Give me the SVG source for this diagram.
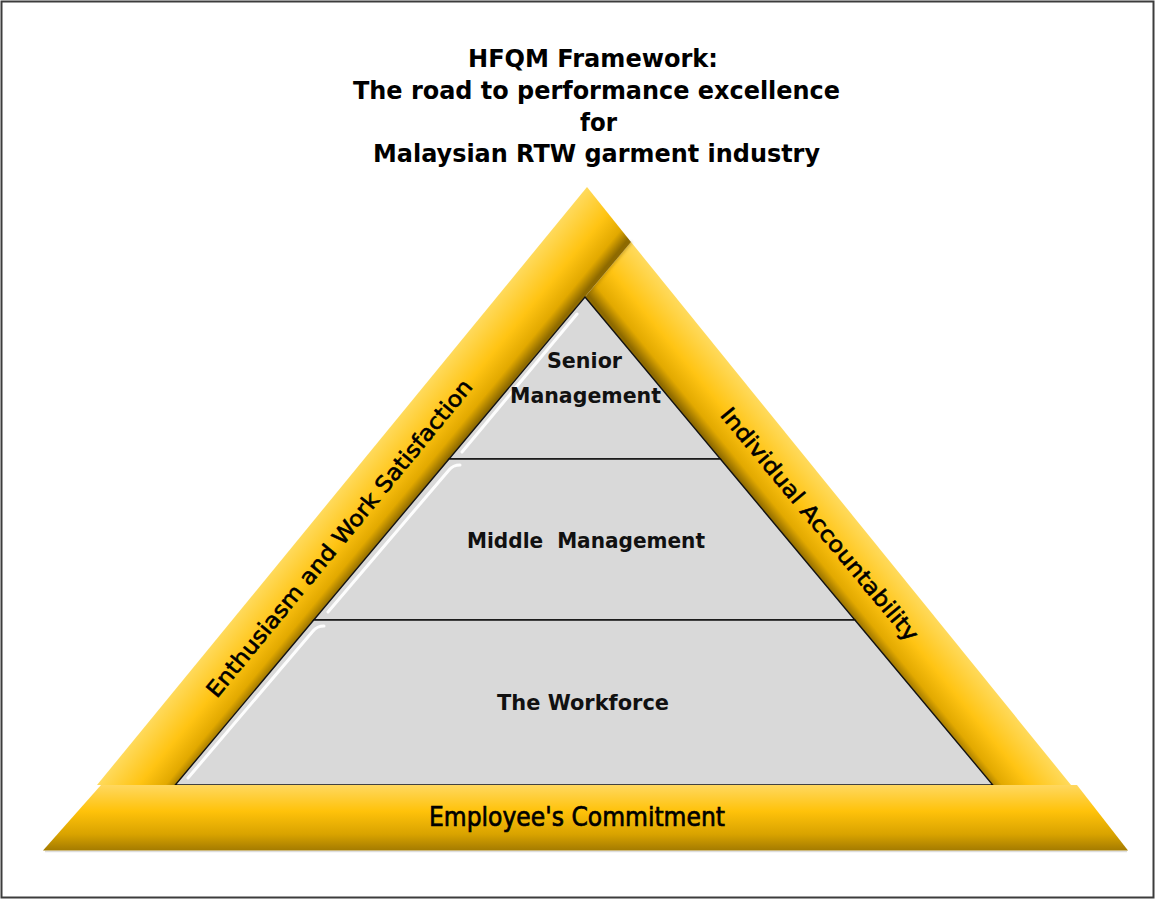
<svg xmlns="http://www.w3.org/2000/svg" width="1156" height="900" viewBox="0 0 1156 900">
<defs>
<style>
.title{font-family:"DejaVu Sans","Liberation Sans",sans-serif;font-weight:bold;font-size:25px;fill:#000;}
.tier{font-family:"DejaVu Sans","Liberation Sans",sans-serif;font-weight:bold;font-size:21px;fill:#111;}
.side{font-family:"DejaVu Sans","Liberation Sans",sans-serif;font-size:22px;fill:#000;stroke:#000;stroke-width:0.6;text-anchor:middle;}
.base{font-family:"DejaVu Sans","Liberation Sans",sans-serif;font-size:27px;fill:#000;stroke:#000;stroke-width:0.7;}
.tierShape{fill:#D9D9D9;stroke:#111;stroke-width:1.4;stroke-linejoin:miter;}
.hl{fill:none;stroke:#FFFFFF;stroke-width:3;stroke-linecap:round;opacity:0.95;filter:url(#soft);}
</style>
<filter id="soft" x="-10%" y="-10%" width="120%" height="120%"><feGaussianBlur stdDeviation="0.7"/></filter>
<filter id="blur2" x="-10%" y="-10%" width="120%" height="120%"><feGaussianBlur stdDeviation="1.5"/></filter>
<linearGradient id="gLeft" gradientUnits="userSpaceOnUse" x1="342" y1="486" x2="392" y2="527">
<stop offset="0" stop-color="#FFDA5C"/>
<stop offset="0.5" stop-color="#FFC413"/>
<stop offset="0.82" stop-color="#E2A900"/>
<stop offset="1" stop-color="#8E6A00"/>
</linearGradient>
<linearGradient id="gRight" gradientUnits="userSpaceOnUse" x1="851" y1="513.5" x2="800" y2="555">
<stop offset="0" stop-color="#FFDA5C"/>
<stop offset="0.5" stop-color="#FFC413"/>
<stop offset="0.82" stop-color="#E2A900"/>
<stop offset="1" stop-color="#8E6A00"/>
</linearGradient>
<linearGradient id="gBase" x1="0" y1="0" x2="0" y2="1">
<stop offset="0" stop-color="#FFD860"/>
<stop offset="0.4" stop-color="#FFC20A"/>
<stop offset="0.75" stop-color="#D9A300"/>
<stop offset="1" stop-color="#A47B00"/>
</linearGradient>
</defs>

<rect x="1.5" y="1.5" width="1152" height="896" fill="#FFFFFF" stroke="#3C3C3C" stroke-width="2"/>

<g id="title">
<text class="title" x="468" y="66.5" textLength="250" lengthAdjust="spacingAndGlyphs">HFQM Framework:</text>
<text class="title" x="353" y="98.5" textLength="487" lengthAdjust="spacingAndGlyphs">The road to performance excellence</text>
<text class="title" x="580" y="130.5" textLength="37" lengthAdjust="spacingAndGlyphs">for</text>
<text class="title" x="373" y="162" textLength="447" lengthAdjust="spacingAndGlyphs">Malaysian RTW garment industry</text>
</g>

<g id="band-right">
<polygon points="631,242 1071,785 992.8,785 585,297" fill="url(#gRight)"/>
<line x1="631" y1="242" x2="585" y2="297" stroke="#8A6500" stroke-width="3" opacity="0.4" filter="url(#blur2)"/>
<text class="side" transform="translate(820,524) rotate(50.3)" x="0" y="8" textLength="296" lengthAdjust="spacingAndGlyphs">Individual Accountability</text>
</g>

<g id="band-left">
<polygon points="587,187 631,242 175.2,785 97,785" fill="url(#gLeft)"/>
<text class="side" transform="translate(339,538) rotate(-50.5)" x="0" y="8" textLength="404" lengthAdjust="spacingAndGlyphs">Enthusiasm and Work Satisfaction</text>
</g>

<g id="tier-senior">
<polygon class="tierShape" points="585,297 720.4,459 449,459"/>
<path class="hl" d="M577,314 L462,452"/>
<text class="tier" x="547" y="368" textLength="75" lengthAdjust="spacingAndGlyphs">Senior</text>
<text class="tier" x="510" y="403" textLength="151" lengthAdjust="spacingAndGlyphs">Management</text>
</g>

<g id="tier-middle">
<polygon class="tierShape" points="449,459 720.4,459 854.9,620 313.7,620"/>
<path class="hl" d="M460,465 Q453,465 449,470 L328,612"/>
<text class="tier" x="467" y="548" textLength="238" lengthAdjust="spacingAndGlyphs" xml:space="preserve" style="white-space:pre">Middle  Management</text>
</g>

<g id="tier-workforce">
<polygon class="tierShape" points="313.7,620 854.9,620 992.8,785 175.2,785"/>
<path class="hl" d="M324,626 Q317,626 313,631 L188,778"/>
<text class="tier" x="497" y="710" textLength="172" lengthAdjust="spacingAndGlyphs">The Workforce</text>
</g>

<g id="band-bottom">
<line x1="45" y1="851.5" x2="1127" y2="851.5" stroke="#DDDDDD" stroke-width="1.5"/>
<polygon points="101,785 1077,785 1128,850.5 43,850.5" fill="url(#gBase)"/>
<text class="base" x="429" y="826" textLength="296" lengthAdjust="spacingAndGlyphs">Employee's Commitment</text>
</g>

<g id="connectors"></g>
</svg>
